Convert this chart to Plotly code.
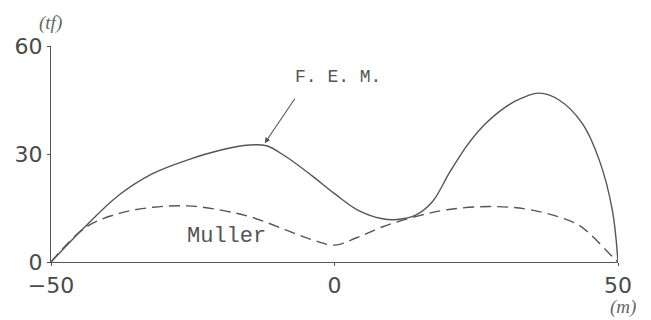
import plotly.graph_objects as go

# F.E.M. result (solid) and Muller (dashed)
fem_x = [-50, -44, -38, -32, -26, -20, -15, -12, -8.6, -4, 0, 4, 8.5, 11, 14.3,
         17.3, 20.2, 23.2, 26.1, 30.2, 33, 36.1, 39.6, 43.7, 46.7, 49, 50]
fem_y = [0, 9.8, 18.6, 24.6, 28.3, 31.1, 32.5, 32.3, 29.3, 24, 19, 14.5, 12, 11.8, 13,
         16.8, 24.6, 32, 37.6, 43.1, 45.5, 46.9, 45, 38.5, 28.3, 14.4, 0]

mul_x = [-50, -44, -38, -32, -26, -20, -14.5, -8.6, -4, 0, 4, 8.5, 14.3,
         20.2, 27.9, 34.9, 42.6, 44.9, 49, 50]
mul_y = [0, 9.5, 13.5, 15.2, 15.6, 14.4, 12.4, 8.9, 6.2, 4.7, 6.8, 9.8, 12.6,
         14.6, 15.4, 14.4, 10.7, 8, 1.5, 0]

x_ticks = [-50, 0, 50]
y_ticks = [0, 30, 60]

ink = "#555555"

fig = go.Figure()
fig.add_trace(go.Scatter(x=fem_x, y=fem_y, mode="lines",
                         line=dict(color=ink, width=1.4, shape="spline", smoothing=1.0)))
fig.add_trace(go.Scatter(x=mul_x, y=mul_y, mode="lines",
                         line=dict(color=ink, width=1.4, dash="11px,6px",
                                   shape="spline", smoothing=1.0)))

axis_common = dict(showgrid=False, zeroline=False, showline=True, linecolor=ink,
                   linewidth=1.2, ticks="outside", ticklen=3, tickcolor=ink,
                   automargin=False,
                   tickfont=dict(family="DejaVu Sans", size=22, color="#4a4a4a"))

fig.update_xaxes(range=[-50, 50], tickvals=x_ticks, ticktext=["−50", "0", "50"],
                 **axis_common)
fig.update_yaxes(range=[0, 60], tickvals=y_ticks, **axis_common)

# arrow pointing at the F.E.M. curve
fig.add_annotation(x=-12.3, y=33, ax=31, ay=-46, text="", showarrow=True,
                   arrowhead=2, arrowsize=1, arrowwidth=1.1, arrowcolor=ink)
fig.add_annotation(x=(335 - 332) / 5.67, y=(262 - 77) / 3.6, text="F. E. M.",
                   showarrow=False,
                   font=dict(family="Liberation Mono", size=18, color="#555"))
fig.add_annotation(x=(224 - 332) / 5.67, y=(262 - 236) / 3.6, text="Muller",
                   showarrow=False,
                   font=dict(family="Liberation Mono", size=22, color="#555"))

fig.add_annotation(x=-0.025, y=1.166, xref="paper", yref="paper", text="<i>(tf)</i>",
                   showarrow=False,
                   font=dict(family="Liberation Serif", size=19, color="#666"))
fig.add_annotation(x=1.035, y=-0.27, xref="paper", yref="paper", text="<i>(m)</i>",
                   showarrow=False,
                   font=dict(family="Liberation Serif", size=19, color="#666"))

# page body has an 8px margin, so the figure is sized to fit the 651x320 window
fig.update_layout(width=643, height=312, showlegend=False,
                  margin=dict(l=43, r=33, t=38, b=58),
                  plot_bgcolor="white", paper_bgcolor="white")

fig.write_html("out.html")
